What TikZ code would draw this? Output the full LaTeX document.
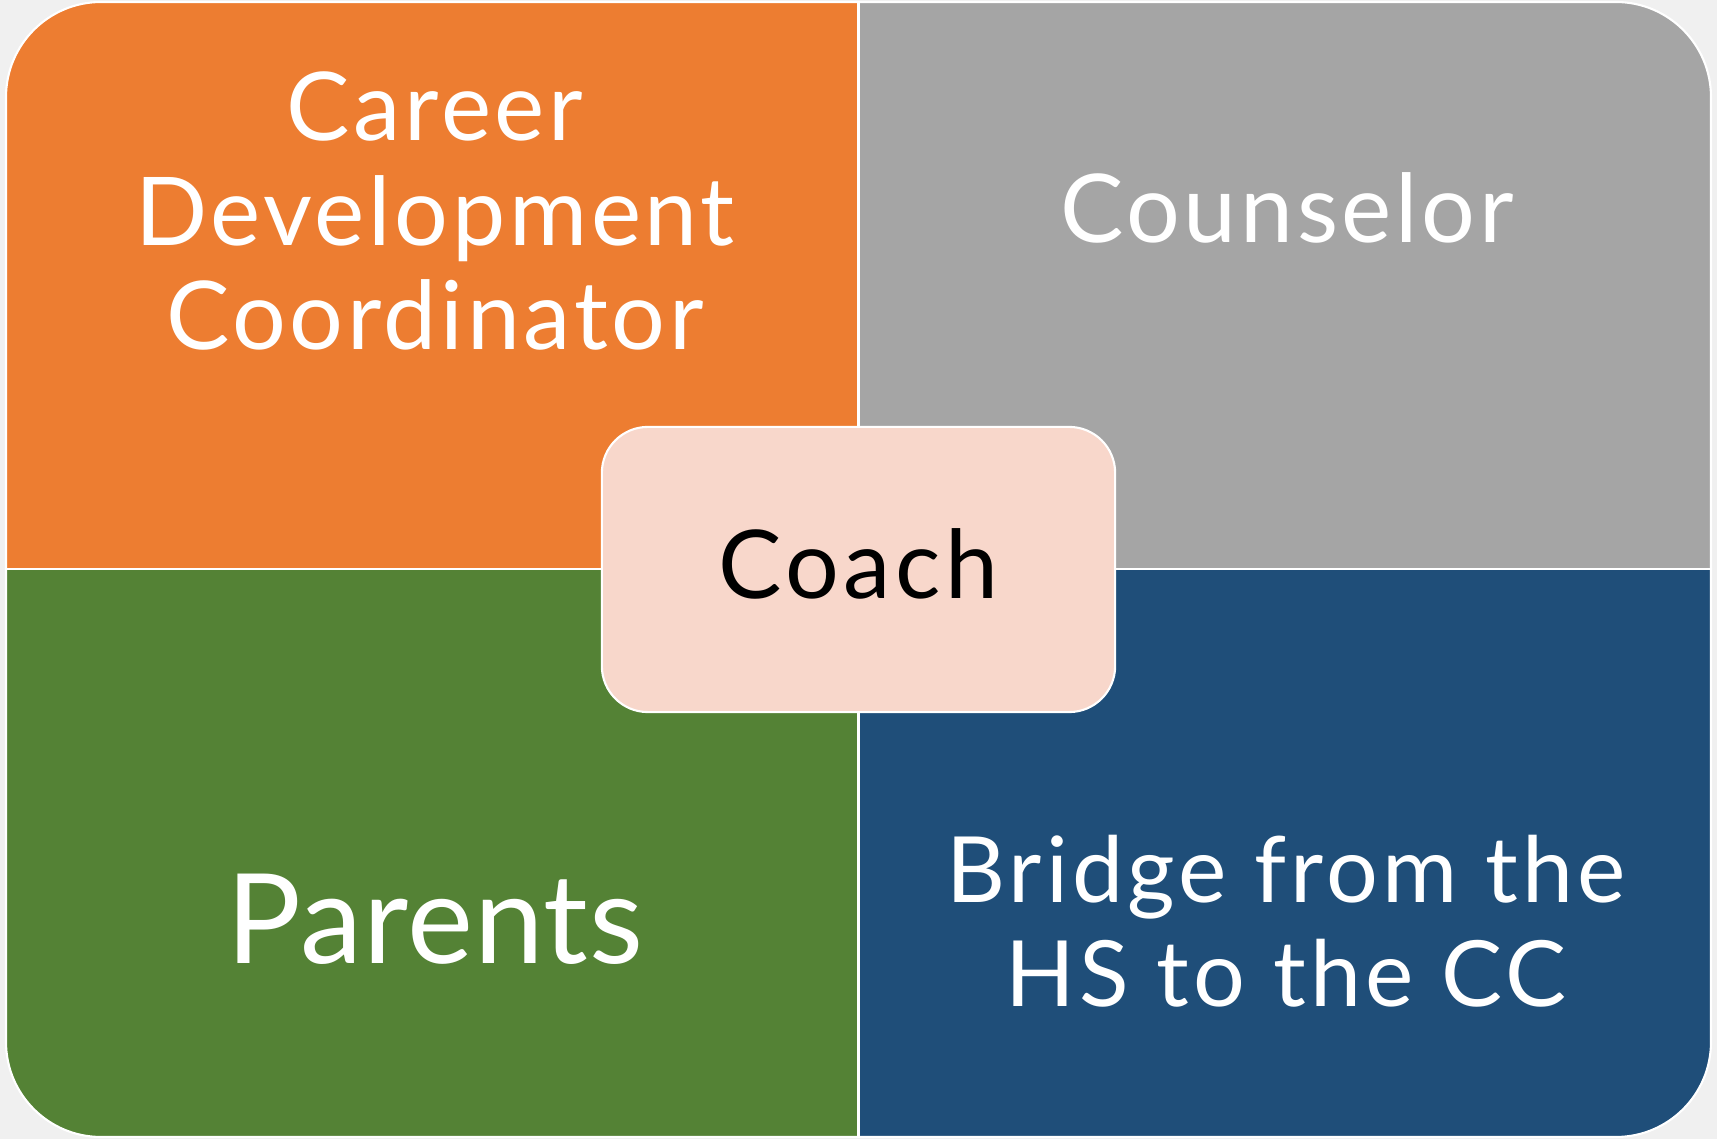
\documentclass[tikz,border=0pt]{standalone}
\usepackage{fontspec}
\setmainfont{Lato}
\newfontfamily\widelato[LetterSpace=3.9]{Lato}
\newfontfamily\widerlato[LetterSpace=4.6]{Lato}
\usetikzlibrary{positioning}
\definecolor{pagegray}{HTML}{F0F0F0}
\definecolor{cdcorange}{HTML}{ED7D31}
\definecolor{cnsgray}{HTML}{A5A5A5}
\definecolor{pargreen}{HTML}{548235}
\definecolor{brgblue}{HTML}{1F4E79}
\definecolor{coachpink}{HTML}{F8D7CB}

\begin{document}
\begin{tikzpicture}[x=0.01cm,y=0.01cm,
    quadtext/.style={text=white,inner sep=0pt,align=center,font=\widelato\fontsize{27}{29.6}\selectfont},
    divider/.style={draw=white,line width=0.6pt},
    coachbox/.style={draw=white,line width=0.6pt,fill=coachpink,rounded corners=0.46cm,
      minimum width=5.13cm,minimum height=2.85cm,text height=0.68cm,text depth=0.11cm,
      font=\widerlato\fontsize{27}{29.6}\selectfont}]
  \fill[pagegray] (0,0) rectangle (1717,1139);
  % the four quarters
  \begin{scope}
    \clip[rounded corners=0.95cm] (6,2) rectangle (1711,1137);
    \fill[cdcorange] (6,570) rectangle (858.5,1137);
    \fill[cnsgray] (858.5,570) rectangle (1711,1137);
    \fill[pargreen] (6,2) rectangle (858.5,570);
    \fill[brgblue] (858.5,2) rectangle (1711,570);
  \end{scope}
  \draw[divider] (858.5,2) -- (858.5,1137);
  \draw[divider] (6,570) -- (1711,570);
  \draw[divider,rounded corners=0.95cm] (6,2) rectangle (1711,1137);

  \node[quadtext] (cdc) at (435,928) {Career\\Development\\Coordinator};
  \node[quadtext,anchor=base] (counselor) at (1287,896) {Counselor};
  \node[quadtext,anchor=base,font=\rmfamily\fontsize{35.5}{40}\selectfont\addfontfeature{LetterSpace=0.8}] (parents) at (435,175) {Parents};
  \node[quadtext,font=\widerlato\fontsize{26}{29.6}\selectfont] (bridge) at (1286,218) {Bridge from the\\HS to the CC};
  \node[coachbox] (coach) at (858.5,569.5) {Coach};
\end{tikzpicture}
\end{document}
